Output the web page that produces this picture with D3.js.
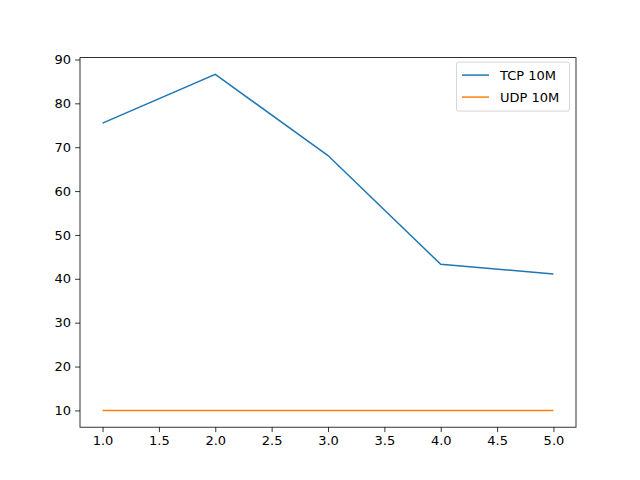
<!DOCTYPE html>
<html><head><meta charset="utf-8">
<script src="https://cdn.jsdelivr.net/npm/d3@7"></script>
<style>body{margin:0;background:#fff}</style>
</head><body><div id="content"></div>
<script>
var width = 640, height = 480;
var margin = {left: 80, right: 64, top: 57.6, bottom: 52.8};

var xs = [1, 2, 3, 4, 5];
var tcp = [75.5, 86.6, 68.1, 43.3, 41.1];
var udp = [10, 10, 10, 10, 10];
var series = [
    {name: "TCP 10M", values: tcp, color: "#1f77b4"},
    {name: "UDP 10M", values: udp, color: "#ff7f0e"}
];
var xTicks = [1.0, 1.5, 2.0, 2.5, 3.0, 3.5, 4.0, 4.5, 5.0];
var yTicks = [10, 20, 30, 40, 50, 60, 70, 80, 90];

var svg = d3.select("#content").append("svg")
    .attr("width", width).attr("height", height)
    .style("font-family", "DejaVu Sans").style("font-size", "13px");

var w = width - margin.left - margin.right;
var h = height - margin.top - margin.bottom;
var g = svg.append("g").attr("transform", "translate(" + margin.left + "," + margin.top + ")");

// matplotlib-style 5% padding
var xPad = (d3.max(xs) - d3.min(xs)) * 0.05;
var allY = tcp.concat(udp);
var yPad = (d3.max(allY) - d3.min(allY)) * 0.05;
var x = d3.scaleLinear().domain([d3.min(xs) - xPad, d3.max(xs) + xPad]).range([0, w]);
var y = d3.scaleLinear().domain([d3.min(allY) - yPad, d3.max(allY) + yPad]).range([h, 0]);

var xAxis = g.append("g").attr("transform", "translate(0," + h + ")")
    .call(d3.axisBottom(x).tickValues(xTicks).tickFormat(d3.format(".1f")).tickSizeOuter(0).tickSize(4.9).tickPadding(4));
var yAxis = g.append("g")
    .call(d3.axisLeft(y).tickValues(yTicks).tickSizeOuter(0).tickSize(4.9).tickPadding(4));
[xAxis, yAxis].forEach(function(a) {
    a.select(".domain").remove();
    a.selectAll("text").attr("fill", "#000").style("font-size", "13px").style("font-family", "DejaVu Sans");
    a.selectAll("line").attr("stroke", "#000").attr("stroke-width", 0.8);
});

var line = d3.line().x(function(d, i) { return x(xs[i]); }).y(function(d) { return y(d); });
series.forEach(function(s) {
    g.append("path").datum(s.values).attr("d", line)
        .attr("fill", "none").attr("stroke", s.color).attr("stroke-width", 1.5);
});

g.append("rect").attr("width", w).attr("height", h)
    .attr("fill", "none").attr("stroke", "#000").attr("stroke-width", 0.8);

// Legend
var lg = g.append("g").attr("transform", "translate(" + (w - 120) + ",4)");
lg.append("rect").attr("x", 0.5).attr("y", 0.5).attr("width", 113).attr("height", 49).attr("rx", 2)
    .attr("fill", "#fff").attr("stroke", "#ccc").attr("stroke-width", 0.8);
series.forEach(function(s, i) {
    var yy = 13.5 + i * 22;
    lg.append("line").attr("x1", 6).attr("x2", 33).attr("y1", yy).attr("y2", yy)
        .attr("stroke", s.color).attr("stroke-width", 1.5);
    lg.append("text").attr("x", 44).attr("y", yy + 4.5).text(s.name)
        .style("font-size", "13px").attr("fill", "#000");
});
</script>
</body></html>
